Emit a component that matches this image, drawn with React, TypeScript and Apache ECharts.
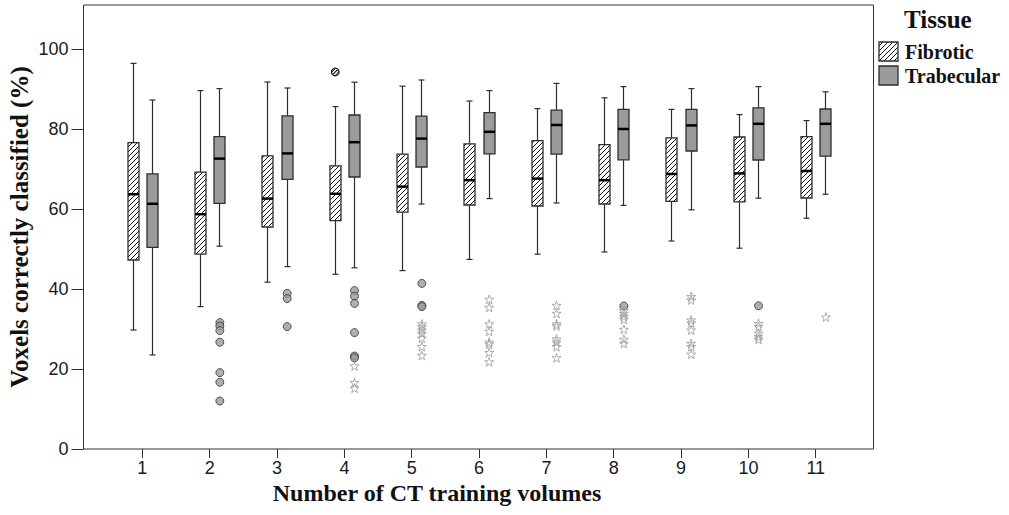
import React, { useEffect, useRef } from 'react';
import * as echarts from 'echarts';

// ---- Data ----
const categories = ['1', '2', '3', '4', '5', '6', '7', '8', '9', '10', '11'];

// [min, Q1, median, Q3, max] per category
const fibroticBoxes = [
  [29.75, 47.25, 63.7, 76.6, 96.4],
  [35.6, 48.7, 58.7, 69.2, 89.6],
  [41.7, 55.5, 62.6, 73.3, 91.75],
  [43.7, 57.1, 63.8, 70.8, 85.6],
  [44.6, 59.2, 65.6, 73.7, 90.7],
  [47.4, 61.0, 67.2, 76.3, 87.0],
  [48.7, 60.75, 67.6, 77.1, 85.1],
  [49.25, 61.25, 67.2, 76.1, 87.8],
  [52.0, 61.9, 68.75, 77.8, 84.9],
  [50.2, 61.8, 68.9, 78.0, 83.6],
  [57.7, 62.75, 69.5, 78.1, 82.1],
];

const trabecularBoxes = [
  [23.5, 50.4, 61.3, 68.8, 87.25],
  [50.7, 61.4, 72.6, 78.1, 90.1],
  [45.6, 67.4, 73.9, 83.3, 90.25],
  [45.3, 68.0, 76.7, 83.5, 91.7],
  [61.25, 70.5, 77.6, 83.2, 92.25],
  [62.6, 73.8, 79.3, 84.1, 89.6],
  [61.5, 73.7, 81.0, 84.7, 91.4],
  [60.9, 72.3, 80.0, 84.9, 90.6],
  [59.8, 74.5, 80.9, 84.9, 90.1],
  [62.7, 72.25, 81.3, 85.3, 90.6],
  [63.7, 73.2, 81.3, 85.0, 89.3],
];

// outliers: [category, value]
const fibroticCircleOutliers: [string, number][] = [['4', 94.25]];

const trabecularCircleOutliers: [string, number][] = [
  ['2', 31.6], ['2', 30.75], ['2', 29.6], ['2', 26.7], ['2', 19.1], ['2', 16.7], ['2', 12.0],
  ['3', 38.9], ['3', 37.6], ['3', 30.6],
  ['4', 39.6], ['4', 38.2], ['4', 36.4], ['4', 29.1], ['4', 23.25], ['4', 22.8],
  ['5', 41.4], ['5', 35.9], ['5', 35.6],
  ['8', 35.75],
  ['10', 35.8],
];

const trabecularStarOutliers: [string, number][] = [
  ['4', 20.75], ['4', 16.6], ['4', 15.2],
  ['5', 31.25], ['5', 30.6], ['5', 29.75], ['5', 28.9], ['5', 27.7], ['5', 25.6], ['5', 23.4],
  ['6', 37.4], ['6', 35.4], ['6', 31.25], ['6', 29.4], ['6', 26.7], ['6', 26.2], ['6', 24.1], ['6', 21.8],
  ['7', 35.9], ['7', 33.9], ['7', 31.25], ['7', 30.75], ['7', 27.5], ['7', 26.75], ['7', 25.6], ['7', 22.8],
  ['8', 34.6], ['8', 33.9], ['8', 33.1], ['8', 32.4], ['8', 29.9], ['8', 27.4], ['8', 26.4],
  ['9', 38.1], ['9', 37.25], ['9', 32.25], ['9', 31.5], ['9', 29.75], ['9', 26.4], ['9', 25.6], ['9', 23.7],
  ['10', 31.4], ['10', 30.6], ['10', 28.9], ['10', 28.1], ['10', 27.4],
  ['11', 33.0],
];

const yTicks = [0, 20, 40, 60, 80, 100];

// ---- Styling constants ----
const GRAY = '#9b9b9b';
const LINE = '#2e2e2e';
const OFFSET = 9.65;
const SANS = "'Liberation Sans Narrow', 'Arial Narrow', 'Liberation Sans', Arial, sans-serif";
const SERIF = "'Liberation Serif', 'Times New Roman', serif";
const STAR =
  'path://M0,-10 L2.35,-3.24 L9.51,-3.09 L3.8,1.24 L5.88,8.09 L0,4 L-5.88,8.09 L-3.8,1.24 L-9.51,-3.09 L-2.35,-3.24 Z';

function hatchLines(x0: number, y0: number, x1: number, y1: number, step: number) {
  const out: any[] = [];
  const cStart = Math.ceil((x0 + y0) / step) * step;
  for (let c = cStart; c <= x1 + y1; c += step) {
    const xa = Math.max(x0, c - y1);
    const xb = Math.min(x1, c - y0);
    if (xb - xa > 0.3) {
      out.push({
        type: 'line',
        shape: { x1: xa, y1: c - xa, x2: xb, y2: c - xb },
        style: { stroke: '#111', lineWidth: 1 },
        silent: true,
      });
    }
  }
  return out;
}

function makeRenderItem(offset: number, hatched: boolean) {
  return (params: any, api: any) => {
    const cat = api.value(0);
    const vMin = api.value(1);
    const vQ1 = api.value(2);
    const vMed = api.value(3);
    const vQ3 = api.value(4);
    const vMax = api.value(5);
    const base = api.coord([cat, vMin]);
    const cx = Math.round(base[0] + offset) + 0.5;
    const yMin = base[1];
    const yQ1 = api.coord([cat, vQ1])[1];
    const yMed = api.coord([cat, vMed])[1];
    const yQ3 = api.coord([cat, vQ3])[1];
    const yMax = api.coord([cat, vMax])[1];
    const half = 5.5;
    const cap = 3;
    const ls = { stroke: LINE, lineWidth: 1.2 };
    const children: any[] = [
      { type: 'line', shape: { x1: cx, y1: yMax, x2: cx, y2: yQ3 }, style: ls },
      { type: 'line', shape: { x1: cx, y1: yQ1, x2: cx, y2: yMin }, style: ls },
      { type: 'line', shape: { x1: cx - cap, y1: yMax, x2: cx + cap, y2: yMax }, style: ls },
      { type: 'line', shape: { x1: cx - cap, y1: yMin, x2: cx + cap, y2: yMin }, style: ls },
      {
        type: 'rect',
        shape: { x: cx - half, y: yQ3, width: half * 2, height: yQ1 - yQ3 },
        style: { fill: hatched ? '#fff' : GRAY, stroke: 'none' },
      },
    ];
    if (hatched) {
      children.push(...hatchLines(cx - half, yQ3, cx + half, yQ1, 5));
    }
    children.push({
      type: 'rect',
      shape: { x: cx - half, y: yQ3, width: half * 2, height: yQ1 - yQ3 },
      style: { fill: 'none', stroke: LINE, lineWidth: 1.3 },
    });
    children.push({
      type: 'line',
      shape: { x1: cx - half, y1: yMed, x2: cx + half, y2: yMed },
      style: { stroke: '#000', lineWidth: 2.5 },
    });
    return { type: 'group', children };
  };
}

// hatched outlier circle (drawn through the axes' scales)
function hatchedCircleItem(offset: number) {
  return (params: any, api: any) => {
    const p = api.coord([api.value(0), api.value(1)]);
    const cx = p[0] + offset + 0.5;
    const cy = p[1];
    const r = 3.8;
    const d = r * 0.55;
    return {
      type: 'group',
      children: [
        { type: 'circle', shape: { cx, cy, r }, style: { fill: '#fff', stroke: '#222', lineWidth: 1.3 } },
        { type: 'line', shape: { x1: cx - d, y1: cy + d, x2: cx + d, y2: cy - d }, style: { stroke: '#111', lineWidth: 1.2 } },
        { type: 'line', shape: { x1: cx - r * 0.9, y1: cy + r * 0.1, x2: cx + r * 0.1 - 0.4, y2: cy - r * 0.9 }, style: { stroke: '#111', lineWidth: 0.9 } },
        { type: 'line', shape: { x1: cx - r * 0.1 + 0.4, y1: cy + r * 0.9, x2: cx + r * 0.9, y2: cy - r * 0.1 }, style: { stroke: '#111', lineWidth: 0.9 } },
      ],
    };
  };
}

const toIdx = (arr: [string, number][]) => arr.map(([c, v]) => [categories.indexOf(c), v]);

export default function App() {
  const ref = useRef<HTMLDivElement>(null);

  useEffect(() => {
    document.body.style.margin = '0';
    if (!ref.current) return;
    const chart = echarts.init(ref.current, undefined, { renderer: 'svg' });

    const legendX = 879;
    const legendSize = 19;

    const option: any = {
      animation: false,
      backgroundColor: '#fff',
      grid: [
        { left: 83.5, right: 135.5, top: 5, bottom: 66, show: true, borderColor: '#333', borderWidth: 1, backgroundColor: 'transparent' },
        { left: 108.7, right: 159.6, top: 49, bottom: 66 },
      ],
      xAxis: [
        { gridIndex: 0, type: 'value', show: false, min: 0, max: 1 },
        {
          gridIndex: 1,
          type: 'category',
          data: categories,
          axisLine: { show: false },
          axisTick: { show: true, alignWithLabel: true, length: 9, lineStyle: { color: '#333', width: 1 } },
          axisLabel: { fontSize: 18, fontFamily: SANS, color: '#1a1a1a', margin: 10 },
          splitLine: { show: false },
        },
      ],
      yAxis: [
        { gridIndex: 0, type: 'value', show: false, min: 0, max: 1 },
        {
          gridIndex: 1,
          type: 'value',
          min: yTicks[0],
          max: yTicks[yTicks.length - 1],
          interval: 20,
          offset: 25.2,
          axisLine: { show: false },
          axisTick: { show: true, length: 12, lineStyle: { color: '#333', width: 1 } },
          axisLabel: { fontSize: 18, fontFamily: SANS, color: '#1a1a1a', margin: 15 },
          splitLine: { show: false },
        },
      ],
      series: [
        {
          name: 'Fibrotic',
          type: 'custom',
          xAxisIndex: 1,
          yAxisIndex: 1,
          renderItem: makeRenderItem(-OFFSET, true),
          encode: { x: 0, y: [1, 2, 3, 4, 5] },
          data: fibroticBoxes.map((b, i) => [i, ...b]),
          z: 3,
        },
        {
          name: 'Trabecular',
          type: 'custom',
          xAxisIndex: 1,
          yAxisIndex: 1,
          renderItem: makeRenderItem(OFFSET, false),
          encode: { x: 0, y: [1, 2, 3, 4, 5] },
          data: trabecularBoxes.map((b, i) => [i, ...b]),
          z: 3,
        },
        {
          name: 'Fibrotic outliers',
          type: 'custom',
          xAxisIndex: 1,
          yAxisIndex: 1,
          renderItem: hatchedCircleItem(-OFFSET),
          encode: { x: 0, y: 1 },
          data: toIdx(fibroticCircleOutliers),
          z: 4,
        },
        {
          name: 'Trabecular outliers',
          type: 'scatter',
          xAxisIndex: 1,
          yAxisIndex: 1,
          symbol: 'circle',
          symbolSize: 8,
          symbolOffset: [OFFSET + 0.5, 0],
          itemStyle: { color: GRAY, borderColor: '#333', borderWidth: 1 },
          data: toIdx(trabecularCircleOutliers),
          z: 4,
        },
        {
          name: 'Trabecular extremes',
          type: 'scatter',
          xAxisIndex: 1,
          yAxisIndex: 1,
          symbol: STAR,
          symbolSize: 9,
          symbolOffset: [OFFSET + 0.5, 0],
          itemStyle: { color: 'rgba(0,0,0,0)', borderColor: '#9a9a9a', borderWidth: 1 },
          data: toIdx(trabecularStarOutliers),
          z: 4,
        },
      ],
      graphic: [
        {
          type: 'text',
          x: 19,
          y: 227,
          rotation: Math.PI / 2,
          style: {
            text: 'Voxels correctly classified (%)',
            fontFamily: SERIF,
            fontWeight: 'bold',
            fontSize: 25,
            fill: '#111',
            textAlign: 'center',
            textVerticalAlign: 'middle',
          },
        },
        {
          type: 'text',
          x: 437,
          y: 493,
          style: {
            text: 'Number of CT training volumes',
            fontFamily: SERIF,
            fontWeight: 'bold',
            fontSize: 24,
            fill: '#111',
            textAlign: 'center',
            textVerticalAlign: 'middle',
          },
        },
        {
          type: 'text',
          x: 904,
          y: 19,
          style: { text: 'Tissue', fontFamily: SERIF, fontWeight: 'bold', fontSize: 25, fill: '#111', textAlign: 'left', textVerticalAlign: 'middle' },
        },
        {
          type: 'group',
          children: [
            { type: 'rect', shape: { x: legendX, y: 42, width: legendSize, height: legendSize }, style: { fill: '#fff' } },
            ...hatchLines(legendX, 42, legendX + legendSize, 42 + legendSize, 5),
            { type: 'rect', shape: { x: legendX, y: 42, width: legendSize, height: legendSize }, style: { fill: 'none', stroke: LINE, lineWidth: 1.3 } },
            { type: 'rect', shape: { x: legendX, y: 66, width: legendSize, height: legendSize }, style: { fill: GRAY, stroke: LINE, lineWidth: 1.3 } },
          ],
        },
        {
          type: 'text',
          x: 905,
          y: 52,
          style: { text: 'Fibrotic', fontFamily: SERIF, fontWeight: 'bold', fontSize: 20, fill: '#111', textAlign: 'left', textVerticalAlign: 'middle' },
        },
        {
          type: 'text',
          x: 905,
          y: 75.5,
          style: { text: 'Trabecular', fontFamily: SERIF, fontWeight: 'bold', fontSize: 20, fill: '#111', textAlign: 'left', textVerticalAlign: 'middle' },
        },
      ],
    };

    chart.setOption(option);
    return () => chart.dispose();
  }, []);

  return <div ref={ref} style={{ width: 1009, height: 515 }} />;
}
